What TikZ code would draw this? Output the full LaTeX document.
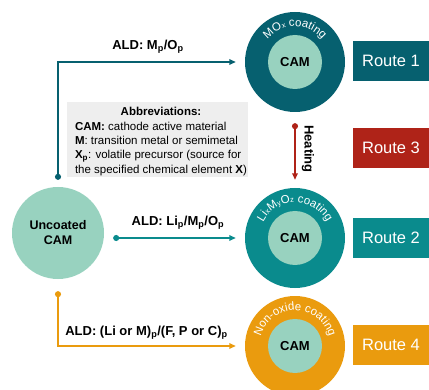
\documentclass[tikz,border=0pt]{standalone}
\usepackage{fontspec}
\setmainfont{Liberation Sans}
\usetikzlibrary{decorations.text, arrows.meta}
\definecolor{rOne}{HTML}{06606F}
\definecolor{rTwo}{HTML}{0A8B8D}
\definecolor{rThree}{HTML}{AF2318}
\definecolor{rFour}{HTML}{EA9B0E}
\definecolor{camgreen}{HTML}{98D2BF}
\definecolor{boxgray}{HTML}{EEEEEE}
\newcommand\ringf{\fontsize{11.5}{13}\selectfont}
\newcommand\ringsub{\fontsize{7.5}{9}\selectfont\raisebox{-1.8pt}}
\begin{document}
\begin{tikzpicture}[x=1pt,y=1pt,
  outer/.style={circle, minimum size=100pt, inner sep=0pt},
  innercam/.style={circle, fill=camgreen, minimum size=54pt, inner sep=0pt, font=\fontsize{13}{15}\selectfont\bfseries},
  routebox/.style={minimum width=76pt, minimum height=40pt, inner sep=0pt, text=white, font=\fontsize{16.5}{18}\selectfont},
  lbl/.style={font=\fontsize{13}{15}\selectfont\bfseries, inner sep=0pt},
  conn/.style={line width=1.6pt, {Circle[length=6pt]}-{Triangle[length=6.5pt,width=5.5pt]}},
  ringtext/.style={decorate, decoration={text along path, text align=center, text color=white, text={#1}}}
]
\useasboundingbox (0,0) rectangle (429,389);
\clip (0,0) rectangle (429,389);

% gray abbreviations box
\node[fill=boxgray, minimum width=181pt, minimum height=75pt, inner sep=0pt] (abbr) at (157.5,249.5) {};
\node[inner sep=0pt, font=\fontsize{11.5}{14.3}\selectfont] (abbrtext) at ([xshift=3.5pt,yshift=-2pt]abbr.center)
  {\begin{minipage}{172pt}\centering\textbf{Abbreviations:}\par\raggedright
   \textbf{CAM:} cathode active material\\
   \textbf{M}: transition metal or semimetal\\
   \textbf{X\textsubscript{p}}: volatile precursor (source for\\
   the specified chemical element \textbf{X})\end{minipage}};

% uncoated CAM
\node[circle, fill=camgreen, minimum size=92pt, inner sep=0pt, align=center, font=\fontsize{12.5}{15}\selectfont\bfseries] (unc) at (58,156) {Uncoated\\CAM};

% coated particles
\node[outer, fill=rOne] (o1) at (295,327) {};
\node[innercam] (i1) at (o1.center) {CAM};
\node[outer, fill=rTwo] (o2) at (295,151) {};
\node[innercam] (i2) at (o2.center) {CAM};
\node[outer, fill=rFour] (o4) at (295,43) {};
\node[innercam] (i4) at (o4.center) {CAM};

\path[ringtext={|\ringf|MO|\ringsub|x|\ringf| coating}] ([shift={(170:35.5)}]o1.center) arc[start angle=170, end angle=10, radius=35.5];
\path[ringtext={|\ringf|Li|\ringsub|x|\ringf|M|\ringsub|y|\ringf|O|\ringsub|z|\ringf| coating}] ([shift={(175:35.5)}]o2.center) arc[start angle=175, end angle=5, radius=35.5];
\path[ringtext={|\ringf|Non-oxide coating}] ([shift={(178:35.5)}]o4.center) arc[start angle=178, end angle=2, radius=35.5];

% route boxes
\node[routebox, fill=rOne] (r1) at (391,328) {Route 1};
\node[routebox, fill=rThree] (r3) at (391,241) {Route 3};
\node[routebox, fill=rTwo] (r2) at (391,151) {Route 2};
\node[routebox, fill=rFour] (r4) at (391,44) {Route 4};

% connectors
\path ([yshift=7pt]unc.north) coordinate (s1);
\path ([xshift=9pt]unc.east) coordinate (s2x);
\path ([yshift=-12pt]unc.south) coordinate (s4);
\draw[conn, rOne, shorten >=9pt] (s1) |- (o1.west);
\draw[conn, rTwo, shorten >=9pt] (s2x |- o2.west) -- (o2.west);
\draw[conn, rFour, shorten >=9pt] (s4) |- (o4.west);
\draw[conn, rThree] ([yshift=-11pt]o1.south) -- ([yshift=8pt]o2.north);

% labels
\node[lbl] (l1) at (148,342) {ALD: M\textsubscript{p}/O\textsubscript{p}};
\node[lbl] (l2) at (178,166) {ALD: Li\textsubscript{p}/M\textsubscript{p}/O\textsubscript{p}};
\node[lbl] (l4) at (146.5,56) {ALD: (Li or M)\textsubscript{p}/(F, P or C)\textsubscript{p}};
\node[lbl, rotate=-90] (lh) at (308,240) {Heating};
\end{tikzpicture}
\end{document}
